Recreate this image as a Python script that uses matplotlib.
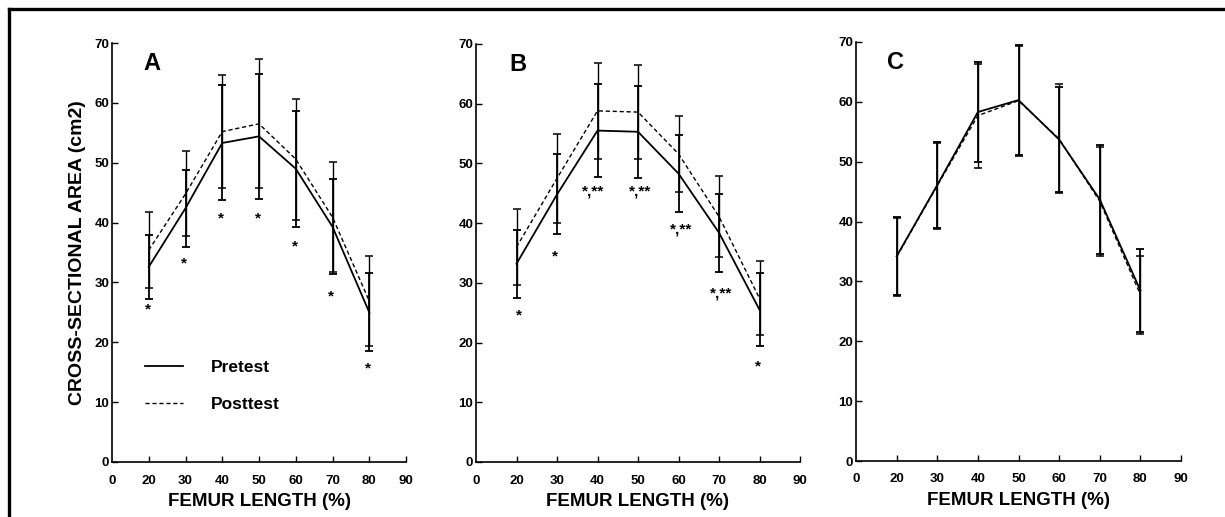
import matplotlib
matplotlib.use("Agg")
import matplotlib.pyplot as plt
from matplotlib.lines import Line2D

plt.rcParams['font.family'] = ['Liberation Sans', 'DejaVu Sans']
plt.rcParams['font.weight'] = 'bold'

femur = [20, 30, 40, 50, 60, 70, 80]
xtick_vals = [10, 20, 30, 40, 50, 60, 70, 80, 90]
xtick_labels = ['0', '20', '30', '40', '50', '60', '70', '80', '90']
ytick_vals = [0, 10, 20, 30, 40, 50, 60, 70]

# Panel A
pre_A = [32.6, 42.4, 53.3, 54.4, 49.0, 39.3, 25.0]
pre_A_sd = [5.4, 6.4, 9.6, 10.5, 9.7, 7.9, 6.5]
post_A = [35.4, 44.8, 55.2, 56.5, 50.6, 40.9, 26.9]
post_A_sd = [6.3, 7.1, 9.4, 10.8, 10.1, 9.2, 7.5]
sig_A_text = ['*', '*', '*', '*', '*', '*', '*']
sig_A_y = [25.4, 33.2, 40.7, 40.7, 36.0, 27.6, 15.7]

# Panel B
pre_B = [33.2, 44.8, 55.5, 55.3, 48.3, 38.4, 25.5]
pre_B_sd = [5.7, 6.7, 7.8, 7.7, 6.5, 6.5, 6.1]
post_B = [36.0, 47.5, 58.8, 58.6, 51.6, 41.1, 27.4]
post_B_sd = [6.4, 7.4, 8.1, 7.9, 6.4, 6.8, 6.2]
sig_B_text = ['*', '*', '*,**', '*,**', '*,**', '*,**', '*']
sig_B_y = [24.6, 34.4, 45.3, 45.3, 38.9, 28.3, 16.0]
sig_B_dx = [0.6, -0.4, -1.0, 0.6, 0.6, 0.6, -0.4]

# Panel C
pre_C = [34.2, 46.1, 58.3, 60.3, 53.7, 43.7, 28.5]
pre_C_sd = [6.5, 7.2, 8.3, 9.2, 8.8, 9.1, 7.0]
post_C = [34.1, 46.0, 57.7, 60.2, 53.8, 43.4, 27.8]
post_C_sd = [6.5, 7.2, 8.7, 9.2, 9.1, 9.1, 6.5]

fig = plt.figure(figsize=(12.25, 5.17), dpi=100)

# outer frame (top and left lines)
fig.add_artist(Line2D([9/1225, 1.0], [1 - 9/517, 1 - 9/517], color='black', lw=2.4))
fig.add_artist(Line2D([9/1225, 9/1225], [0.0, 1 - 9/517], color='black', lw=2.4))

def px_axes(l, r, t, b):
    return fig.add_axes([l/1225, 1 - b/517, (r - l)/1225, (b - t)/517])

axA = px_axes(112, 406, 43, 462)
axB = px_axes(476, 800, 44, 462)
axC = px_axes(856, 1181, 42, 461)

def style(ax):
    ax.set_xlim(10, 90)
    ax.set_ylim(0, 70)
    ax.spines['top'].set_visible(False)
    ax.spines['right'].set_visible(False)
    for s in ['left', 'bottom']:
        ax.spines[s].set_linewidth(1.2)
    ax.set_xticks(xtick_vals)
    ax.set_xticklabels(xtick_labels)
    ax.set_yticks(ytick_vals)
    ax.tick_params(direction='in', length=4, width=1.0, labelsize=9.5)
    ax.tick_params(axis='x', pad=9)
    ax.tick_params(axis='y', pad=2)
    for lab in ax.get_xticklabels() + ax.get_yticklabels():
        lab.set_fontweight('bold')
    ax.xaxis.get_major_ticks()[0].tick1line.set_visible(False)
    ax.set_xlabel('FEMUR LENGTH (%)', fontsize=13.5, fontweight='bold', labelpad=5)

def draw(ax, pre, pre_sd, post, post_sd):
    lp, = ax.plot(femur, pre, color='black', lw=1.3, ls='-', label='Pretest')
    lq, = ax.plot(femur, post, color='black', lw=1.0, ls=(0, (3, 2)), label='Posttest')
    ax.errorbar(femur, pre, yerr=pre_sd, fmt='none', ecolor='black',
                elinewidth=1.3, capsize=2.6, capthick=1.3)
    ax.errorbar(femur, post, yerr=post_sd, fmt='none', ecolor='black',
                elinewidth=1.0, capsize=2.6, capthick=1.1)
    return lp, lq

for ax in (axA, axB, axC):
    style(ax)

lp, lq = draw(axA, pre_A, pre_A_sd, post_A, post_A_sd)
draw(axB, pre_B, pre_B_sd, post_B, post_B_sd)
draw(axC, pre_C, pre_C_sd, post_C, post_C_sd)

for x, y, t in zip(femur, sig_A_y, sig_A_text):
    axA.text(x - 0.3, y, t, ha='center', va='center', fontsize=11, fontweight='bold')
for x, y, t, dx in zip(femur, sig_B_y, sig_B_text, sig_B_dx):
    axB.text(x + dx, y, t, ha='center', va='center', fontsize=11, fontweight='bold')

axA.set_ylabel('CROSS-SECTIONAL AREA (cm2)', fontsize=14, fontweight='bold', labelpad=6)

for ax, letter, fx in ((axA, 'A', 0.136), (axB, 'B', 0.13), (axC, 'C', 0.12)):
    ax.text(fx, 0.952, letter, transform=ax.transAxes, ha='center', va='center',
            fontsize=17, fontweight='bold')

axA.legend([lp, lq], ['Pretest', 'Posttest'], loc='upper left',
           bbox_to_anchor=(0.06, 0.28), frameon=False,
           handlelength=2.2, handletextpad=1.6, labelspacing=1.25,
           prop={'weight': 'bold', 'size': 12.5})

fig.savefig('out.png', dpi=100)
